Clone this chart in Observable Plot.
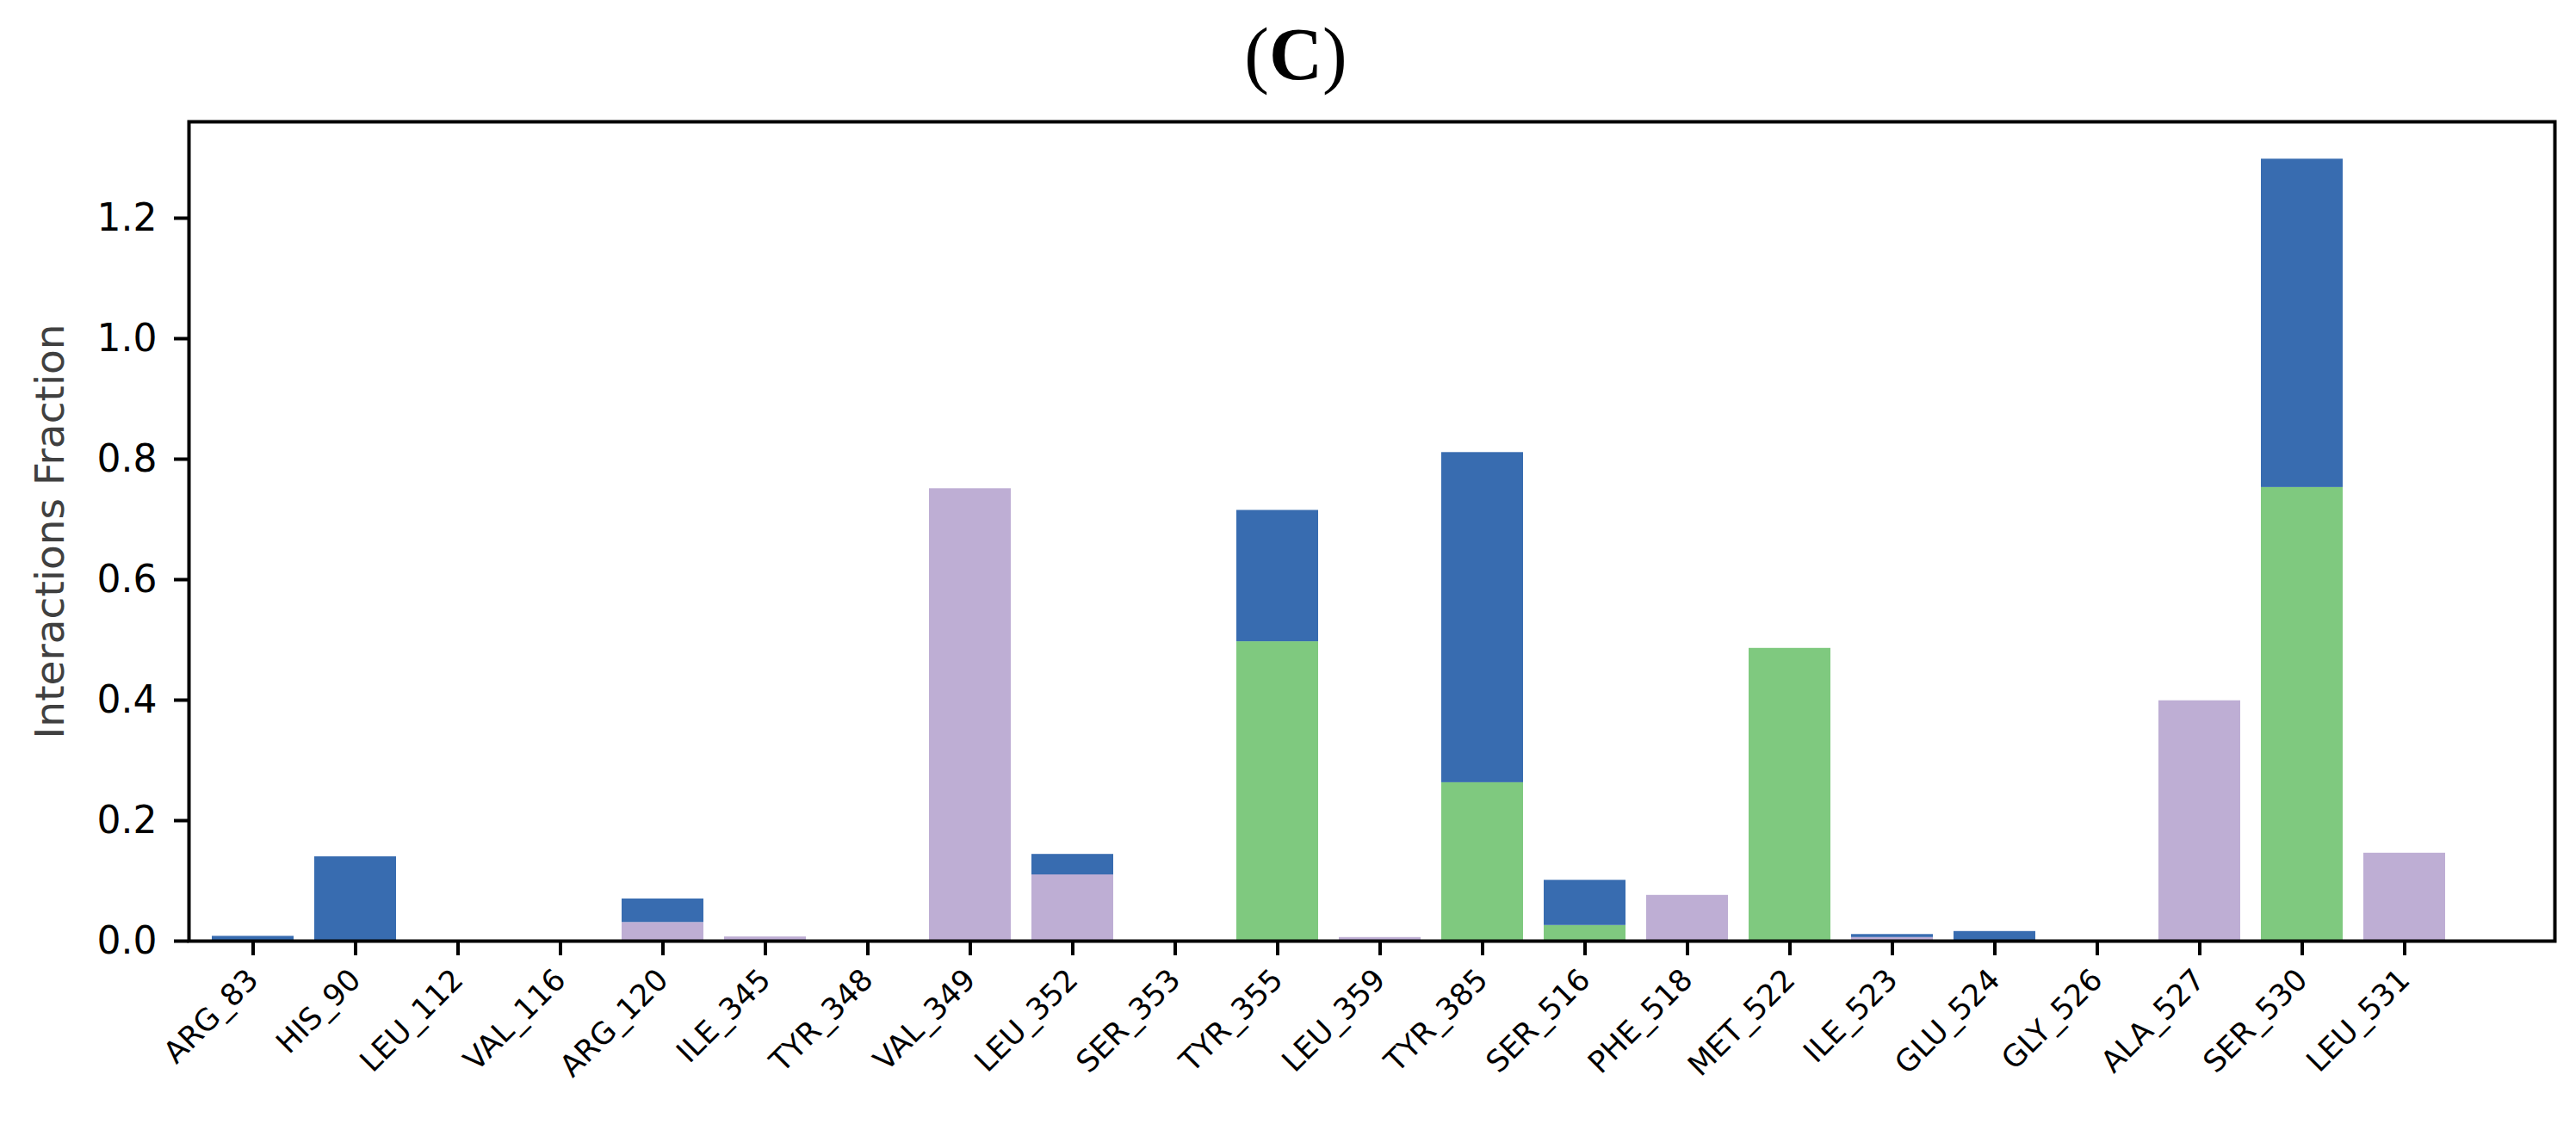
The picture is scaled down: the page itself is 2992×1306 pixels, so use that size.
<!DOCTYPE html>
<html>
<head>
<meta charset="utf-8">
<script src="https://cdn.jsdelivr.net/npm/d3@7"></script>
<script src="https://cdn.jsdelivr.net/npm/@observablehq/plot@0.6"></script>
<style>
  html, body { margin: 0; padding: 0; background: #fff; }
  #wrap { position: relative; width: 2992px; height: 1306px; }
  #title { position: absolute; left: 0; width: 3010px; top: 20px; text-align: center;
           font-family: "Liberation Serif", "Times New Roman", serif; font-size: 86px; line-height: 86px; color: #000; font-weight: normal; }
  #title b { font-weight: bold; }
  #chart svg { display: block; }
  g[aria-label="y-axis tick label"] { font-size: 44px; }
  g[aria-label="x-axis tick label"] { font-size: 35px; }
  g[aria-label="y-axis label"] { font-size: 47px; fill: #404040; }
</style>
</head>
<body>
<div id="wrap">
  <div id="chart"></div>
  <div id="title">(<b>C</b>)</div>
</div>
<script>
const residues = ["ARG_83","HIS_90","LEU_112","VAL_116","ARG_120","ILE_345","TYR_348","VAL_349","LEU_352","SER_353","TYR_355","LEU_359","TYR_385","SER_516","PHE_518","MET_522","ILE_523","GLU_524","GLY_526","ALA_527","SER_530","LEU_531"];
const hbonds       = [0, 0, 0, 0, 0, 0, 0, 0, 0, 0, 0.497, 0, 0.263, 0.026, 0, 0.486, 0, 0, 0, 0, 0.753, 0];
const hydrophobic  = [0, 0, 0, 0, 0.031, 0.007, 0, 0.751, 0.110, 0, 0, 0.006, 0, 0, 0.076, 0, 0.006, 0, 0, 0.399, 0, 0.146];
const waterBridges = [0.008, 0.140, 0, 0, 0.039, 0, 0, 0, 0.034, 0, 0.218, 0, 0.548, 0.075, 0, 0, 0.005, 0.016, 0, 0, 0.545, 0];
const types = ["H-bonds", "Hydrophobic", "Water bridges"];
const typeColors = ["#7fc97f", "#beaed4", "#386cb0"];
const yTicks = [0, 0.2, 0.4, 0.6, 0.8, 1.0, 1.2];

const series = [hbonds, hydrophobic, waterBridges];
const rows = residues.flatMap((r, i) => types.map((t, k) => ({residue: r, type: t, value: series[k][i]})));

const chart = Plot.plot({
  width: 2992,
  height: 1306,
  marginLeft: 219,
  marginRight: 25,
  marginTop: 141,
  marginBottom: 213,
  style: {fontFamily: "DejaVu Sans", background: "white", color: "#000", overflow: "visible"},
  x: {type: "band", domain: residues, paddingInner: 0.2, paddingOuter: 0.6, align: 0.175, label: null},
  y: {domain: [0, 1.36], label: null},
  color: {domain: types, range: typeColors},
  marks: [
    Plot.barY(rows, {x: "residue", y: "value", fill: "type", order: types}),
    Plot.axisY({ticks: yTicks, tickFormat: d3.format(".1f"), tickSize: 17, tickPadding: 20, strokeWidth: 4,
      label: "Interactions Fraction", labelAnchor: "center", labelArrow: "none", labelOffset: 179}),
    Plot.axisX({tickSize: 17, tickPadding: 22, tickRotate: -45, strokeWidth: 4, label: null}),
    Plot.frame({stroke: "black", strokeWidth: 4})
  ]
});
document.getElementById("chart").appendChild(chart);
</script>
</body>
</html>
